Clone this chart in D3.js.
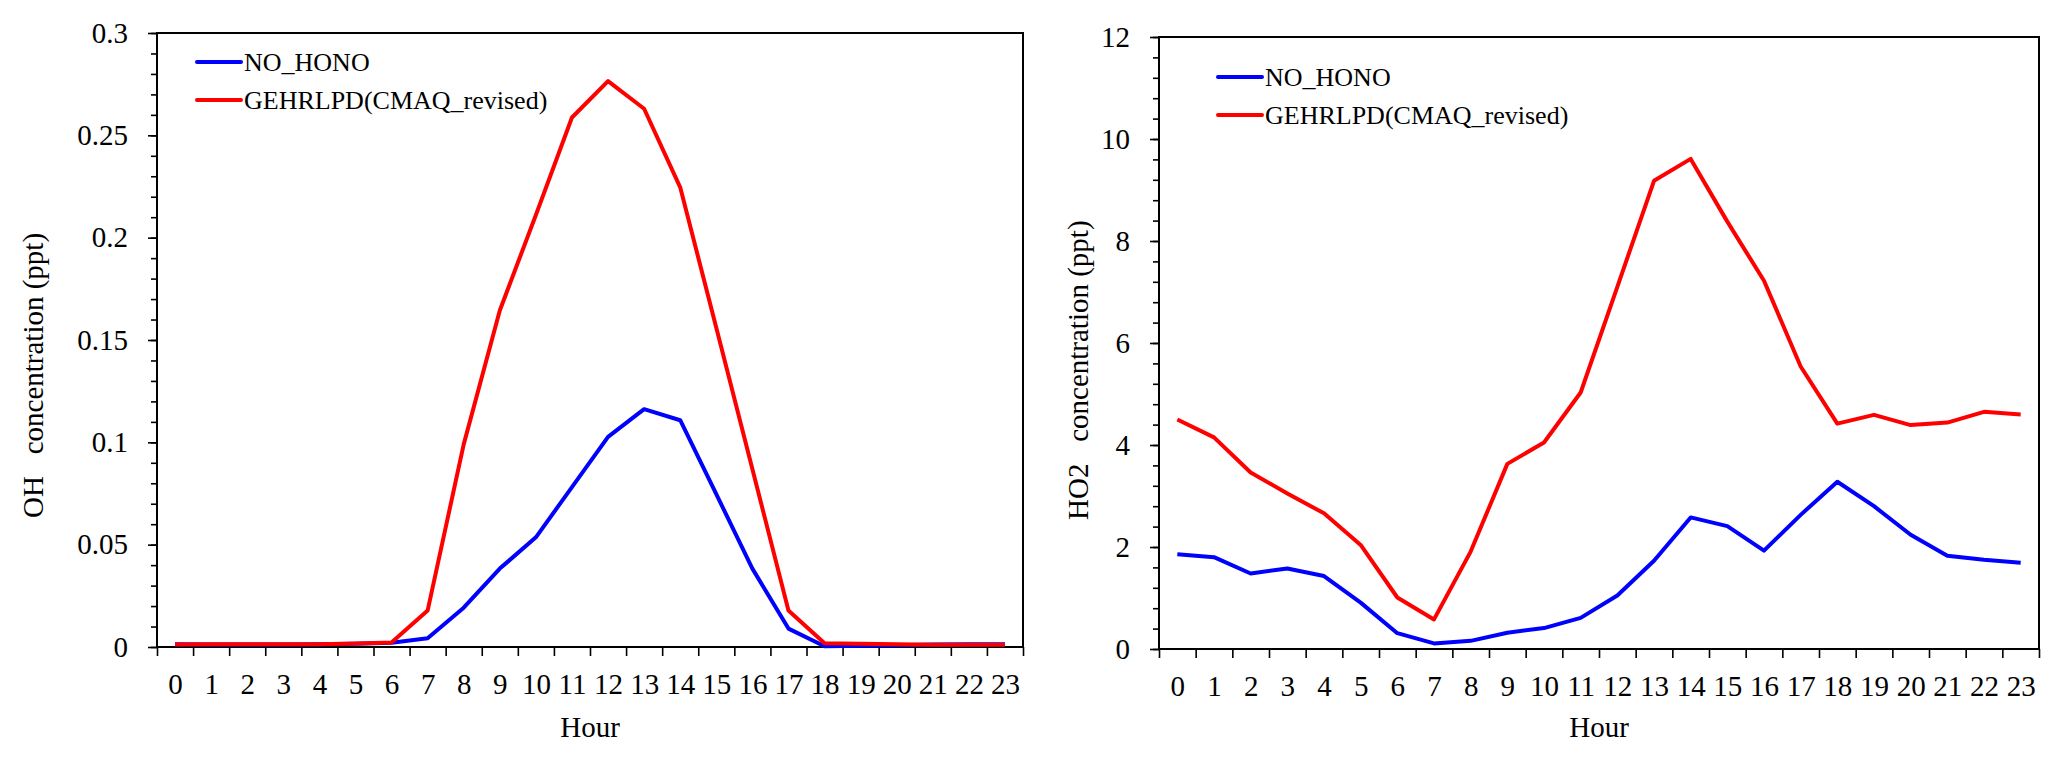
<!DOCTYPE html>
<html>
<head>
<meta charset="utf-8">
<script src="https://cdnjs.cloudflare.com/ajax/libs/d3/7.8.5/d3.min.js"></script>
<style>
  body { margin: 0; background: #fff; }
  svg { display: block; }
  svg text { font-family: 'Liberation Serif', 'Times New Roman', Times, 'DejaVu Serif', serif !important; fill: #000; }
  .axis path, .axis line { stroke: #000; }
</style>
</head>
<body>
<svg id="chart" width="2063" height="762" font-family="Liberation Serif"></svg>
<script>
// Hours of the day
const hours = d3.range(24);
const seriesNames = ['NO_HONO', 'GEHRLPD(CMAQ_revised)'];
const seriesColors = ['#0000ff', '#ff0000'];
const serif = "'Liberation Serif', 'Times New Roman', Times, 'DejaVu Serif', serif";

// OH concentration (ppt)
const ohNoHono = [0.0013, 0.0012, 0.0012, 0.0012, 0.0013, 0.0016, 0.0021, 0.0043, 0.0192, 0.0383, 0.0536, 0.0781,
                  0.1027, 0.1162, 0.1108, 0.0747, 0.0383, 0.009, 0.0004, 0.0006, 0.0009, 0.0012, 0.0013, 0.0013];
const ohRevised = [0.0012, 0.0013, 0.0013, 0.0013, 0.0014, 0.0017, 0.0022, 0.0178, 0.099, 0.1644, 0.2111, 0.2587,
                   0.2765, 0.263, 0.2246, 0.156, 0.087, 0.0178, 0.0018, 0.0016, 0.0013, 0.0011, 0.0011, 0.0011];

// HO2 concentration (ppt)
const ho2NoHono = [1.86, 1.80, 1.48, 1.58, 1.43, 0.91, 0.31, 0.11, 0.16, 0.32, 0.41, 0.61,
                   1.05, 1.73, 2.58, 2.41, 1.93, 2.63, 3.28, 2.80, 2.24, 1.83, 1.75, 1.69];
const ho2Revised = [4.50, 4.15, 3.46, 3.05, 2.66, 2.04, 1.01, 0.58, 1.91, 3.63, 4.05, 5.03,
                    7.10, 9.18, 9.61, 8.38, 7.22, 5.54, 4.42, 4.59, 4.39, 4.44, 4.65, 4.60];

// Y axis ticks
const ohTicks = [0, 0.05, 0.1, 0.15, 0.2, 0.25, 0.3];
const ho2Ticks = [0, 2, 4, 6, 8, 10, 12];

const svg = d3.select('#chart');

function drawPanel(opts) {
    const g = svg.append('g');
    const x = d3.scaleLinear().domain([0, 24]).range([opts.left, opts.right]);
    const y = d3.scaleLinear().domain([0, opts.max]).range([opts.bottom, opts.top]);

    // minor y ticks
    g.append('g')
        .attr('class', 'axis')
        .attr('transform', `translate(${opts.left},0)`)
        .call(d3.axisLeft(y).tickValues(d3.range(0, 31).map(i => i * opts.max / 30)).tickSize(6).tickFormat(''))
        .call(s => s.select('.domain').remove())
        .selectAll('line').attr('stroke-width', 1.6);

    // major y ticks
    const yAx = g.append('g')
        .attr('class', 'axis')
        .attr('transform', `translate(${opts.left},0)`)
        .call(d3.axisLeft(y).tickValues(opts.ticks).tickSize(9).tickPadding(20).tickFormat(d => d3.format('~g')(d)));
    yAx.attr('font-family', serif).attr('font-size', 29);
    yAx.select('.domain').remove();
    yAx.selectAll('line').attr('stroke-width', 1.6);

    // x tick marks at hour boundaries
    const xAx = g.append('g')
        .attr('class', 'axis')
        .attr('transform', `translate(0,${opts.bottom})`)
        .call(d3.axisBottom(x).tickValues(d3.range(25)).tickSize(9).tickFormat(''));
    xAx.select('.domain').remove();
    xAx.selectAll('line').attr('stroke-width', 1.6);

    // x labels at hour centers
    const xLab = g.append('g')
        .attr('class', 'axis')
        .attr('transform', `translate(0,${opts.bottom})`)
        .call(d3.axisBottom(x).tickValues(hours.map(h => h + 0.5)).tickSize(0).tickPadding(26).tickFormat(d => d - 0.5));
    xLab.attr('font-family', serif).attr('font-size', 29);
    xLab.select('.domain').remove();

    // frame
    g.append('rect')
        .attr('x', opts.left).attr('y', opts.top)
        .attr('width', opts.right - opts.left).attr('height', opts.bottom - opts.top)
        .attr('fill', 'none').attr('stroke', '#000').attr('stroke-width', 2);

    // lines
    const line = d3.line().x((d, i) => x(i + 0.5)).y(d => y(d));
    opts.series.forEach((vals, i) => {
        g.append('path')
            .datum(vals)
            .attr('fill', 'none')
            .attr('stroke', seriesColors[i])
            .attr('stroke-width', 4)
            .attr('stroke-linejoin', 'round')
            .attr('d', line);
    });

    // legend
    seriesNames.forEach((name, i) => {
        const ly = opts.legendY + i * 38;
        g.append('line')
            .attr('x1', opts.legendX).attr('x2', opts.legendX + 44)
            .attr('y1', ly).attr('y2', ly)
            .attr('stroke', seriesColors[i]).attr('stroke-width', 4).attr('stroke-linecap', 'round');
        g.append('text')
            .attr('x', opts.legendX + 47).attr('y', ly + 9)
            .attr('font-family', serif).attr('font-size', 26)
            .text(name);
    });

    // axis titles
    g.append('text')
        .attr('x', (opts.left + opts.right) / 2).attr('y', 737)
        .attr('text-anchor', 'middle')
        .attr('font-family', serif).attr('font-size', 29)
        .text('Hour');

    g.append('text')
        .attr('transform', `translate(${opts.titleX},${opts.titleY}) rotate(-90)`)
        .attr('text-anchor', 'start')
        .attr('font-family', serif).attr('font-size', 29)
        .style('white-space', 'pre')
        .text(opts.yTitle);
}

drawPanel({
    left: 157, right: 1023, top: 33, bottom: 647,
    max: 0.3, ticks: ohTicks,
    series: [ohNoHono, ohRevised],
    legendX: 197, legendY: 62,
    titleX: 43, titleY: 518,
    yTitle: 'OH   concentration (ppt)'
});

drawPanel({
    left: 1159, right: 2039, top: 37, bottom: 649,
    max: 12, ticks: ho2Ticks,
    series: [ho2NoHono, ho2Revised],
    legendX: 1218, legendY: 77,
    titleX: 1088, titleY: 520,
    yTitle: 'HO2   concentration (ppt)'
});
</script>
</body>
</html>
